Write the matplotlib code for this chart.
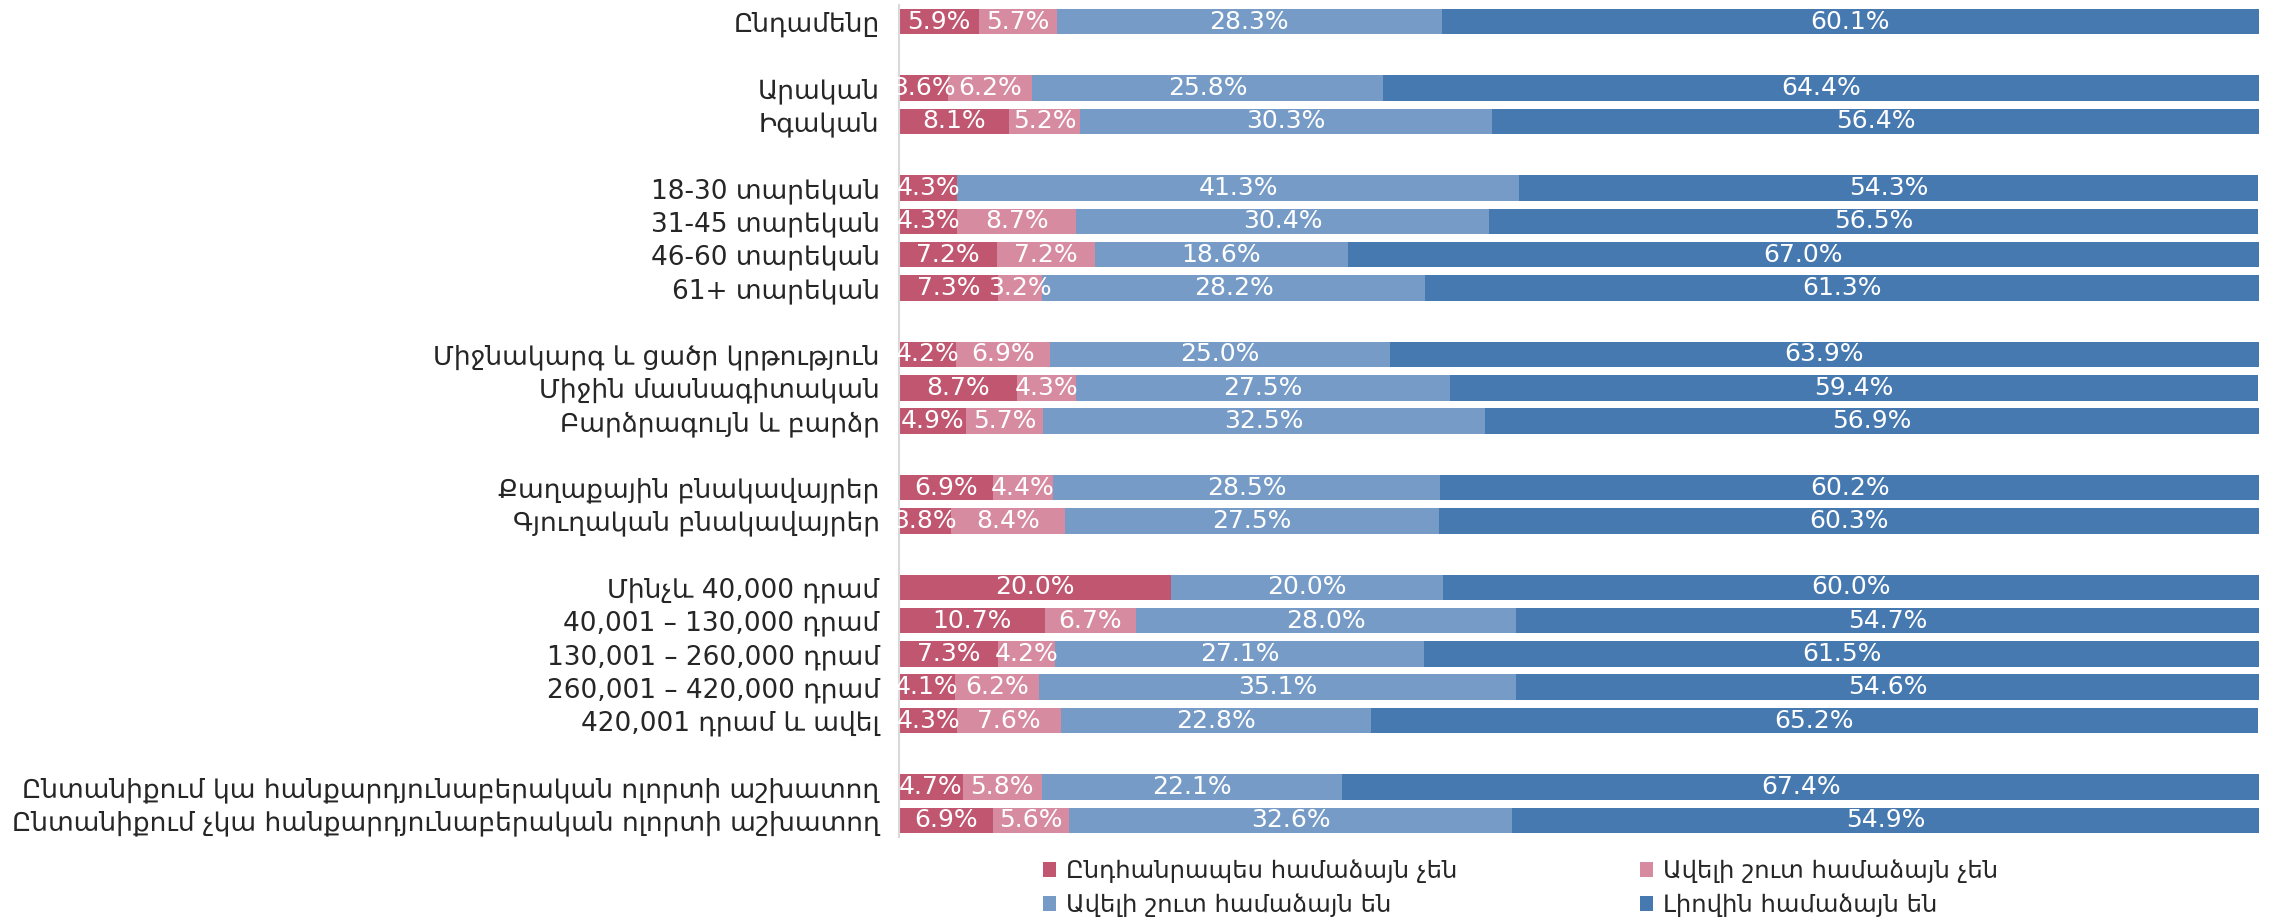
import matplotlib
matplotlib.use("Agg")
import matplotlib.pyplot as plt
import numpy as np

categories = [
    "Ընդամենը",
    "Արական", "Իգական",
    "18-30 տարեկան", "31-45 տարեկան", "46-60 տարեկան", "61+ տարեկան",
    "Միջնակարգ և ցածր կրթություն", "Միջին մասնագիտական", "Բարձրագույն և բարձր",
    "Քաղաքային բնակավայրեր", "Գյուղական բնակավայրեր",
    "Մինչև 40,000 դրամ", "40,001 – 130,000 դրամ", "130,001 – 260,000 դրամ",
    "260,001 – 420,000 դրամ", "420,001 դրամ և ավել",
    "Ընտանիքում կա հանքարդյունաբերական ոլորտի աշխատող",
    "Ընտանիքում չկա հանքարդյունաբերական ոլորտի աշխատող",
]
group_sizes = [1, 2, 4, 3, 2, 5, 2]

series_names = [
    "Ընդհանրապես համաձայն չեն",
    "Ավելի շուտ համաձայն չեն",
    "Ավելի շուտ համաձայն են",
    "Լիովին համաձայն են",
]
s1 = [5.9, 3.6, 8.1, 4.3, 4.3, 7.2, 7.3, 4.2, 8.7, 4.9, 6.9, 3.8, 20.0, 10.7, 7.3, 4.1, 4.3, 4.7, 6.9]
s2 = [5.7, 6.2, 5.2, 0.0, 8.7, 7.2, 3.2, 6.9, 4.3, 5.7, 4.4, 8.4, 0.0, 6.7, 4.2, 6.2, 7.6, 5.8, 5.6]
s3 = [28.3, 25.8, 30.3, 41.3, 30.4, 18.6, 28.2, 25.0, 27.5, 32.5, 28.5, 27.5, 20.0, 28.0, 27.1, 35.1, 22.8, 22.1, 32.6]
s4 = [60.1, 64.4, 56.4, 54.3, 56.5, 67.0, 61.3, 63.9, 59.4, 56.9, 60.2, 60.3, 60.0, 54.7, 61.5, 54.6, 65.2, 67.4, 54.9]
colors = ["#C0566F", "#D68BA1", "#769BC6", "#4779B1"]

plt.rcParams["font.family"] = ["DejaVu Sans"]

# y positions with a blank row between groups
pos = []
y = 0
for g in group_sizes:
    for _ in range(g):
        pos.append(y)
        y += 1
    y += 1
pos = np.array(pos)

fig = plt.figure(figsize=(22.75, 9.23), dpi=100)
ax = fig.add_axes([899 / 2275, 1 - 837 / 923, (2259 - 899) / 2275, 832 / 923])

left = np.zeros(len(categories))
handles = []
for vals, name, col in zip([s1, s2, s3, s4], series_names, colors):
    vals = np.array(vals)
    bars = ax.barh(pos, vals, left=left, height=0.77, color=col, label=name)
    handles.append(bars)
    labels = [f"{v:.1f}%" if v > 0 else "" for v in vals]
    texts = ax.bar_label(bars, labels=labels, label_type="center",
                         color="white", fontsize=18)
    for t in texts:
        t.set_clip_on(True)
    left += vals

ax.set_xlim(0, 100)
ax.set_ylim(pos[-1] + 0.5, -0.5)
ax.set_yticks(pos)
ax.set_yticklabels(categories, fontsize=19, color="#262626")
ax.tick_params(axis="y", length=0, pad=14)
ax.set_xticks([])
for s in ["top", "right", "bottom"]:
    ax.spines[s].set_visible(False)
ax.spines["left"].set_color("#D9D9D9")
ax.spines["left"].set_linewidth(1.5)

leg_kw = dict(frameon=False, fontsize=17.5, handlelength=0.55, handleheight=0.55,
              handletextpad=0.4, borderpad=0, borderaxespad=0, labelspacing=0.42,
              loc="upper left", labelcolor="#262626")
leg1 = fig.legend([handles[0], handles[2]], [series_names[0], series_names[2]],
                  bbox_to_anchor=(1043 / 2275, 1 - 859 / 923), **leg_kw)
leg2 = fig.legend([handles[1], handles[3]], [series_names[1], series_names[3]],
                  bbox_to_anchor=(1640 / 2275, 1 - 859 / 923), **leg_kw)

fig.savefig("out.png", dpi=100, facecolor="white")
